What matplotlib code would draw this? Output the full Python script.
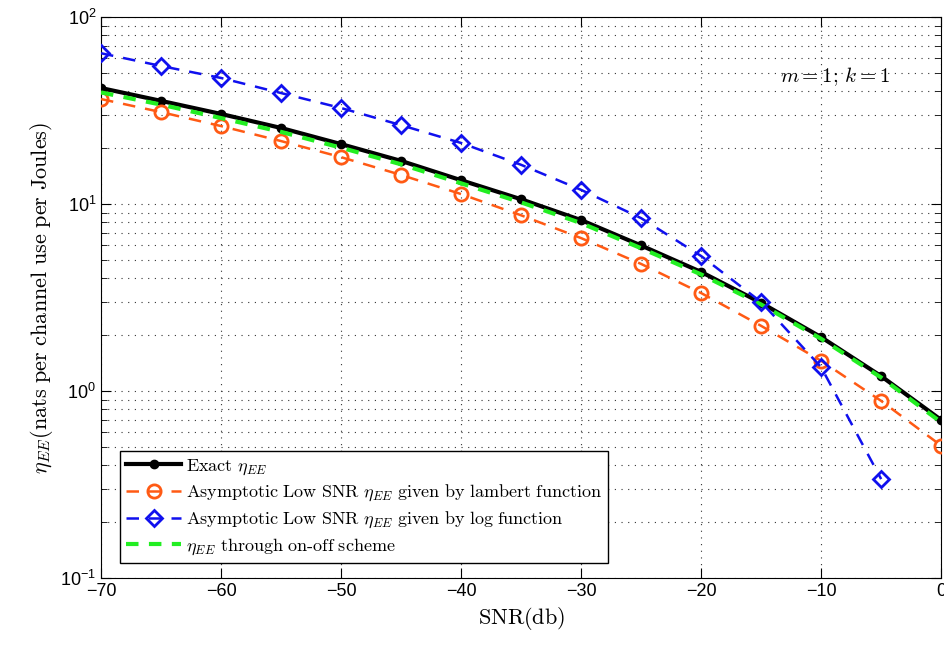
import numpy as np
from matplotlib import pyplot as plt
from matplotlib.ticker import LogLocator, NullFormatter

snr_db = [-70, -65, -60, -55, -50, -45, -40, -35, -30, -25, -20, -15, -10, -5, 0]

exact_ee = [41.7, 35.6, 30.3, 25.5, 20.9, 17.0, 13.4, 10.6, 8.2, 6.0, 4.33, 2.96, 1.94, 1.20, 0.70]
lambert_ee = [36.4, 31.0, 26.1, 21.7, 17.8, 14.3, 11.3, 8.7, 6.57, 4.78, 3.34, 2.23, 1.45, 0.885, 0.51]
snr_db_log = [-70, -65, -60, -55, -50, -45, -40, -35, -30, -25, -20, -15, -10, -5]
log_ee = [64.0, 54.7, 47.2, 39.2, 32.6, 26.4, 21.2, 16.2, 11.9, 8.4, 5.27, 2.99, 1.34, 0.338]
onoff_ee = [39.5, 34.0, 28.8, 24.3, 20.0, 16.3, 12.9, 10.2, 7.9, 5.8, 4.2, 2.9, 1.9, 1.18, 0.68]

x_ticks = [-70, -60, -50, -40, -30, -20, -10, 0]

plt.rcParams['mathtext.fontset'] = 'cm'
plt.rcParams['font.family'] = ['Liberation Sans', 'DejaVu Sans']

fig = plt.figure(figsize=(9.44, 6.46), dpi=100)
ax = fig.add_axes([0.107, 0.1053, 0.89, 0.8684])

ax.plot(snr_db, exact_ee, '-', color='black', lw=3, marker='o', ms=6,
        label=r'$\mathrm{Exact}\ \eta_{EE}$', zorder=3)
ax.plot(snr_db, lambert_ee, '--', color='#ff5a14', lw=1.8, marker='o', ms=9.5,
        mfc='none', mew=2, dashes=(5, 4),
        label=r'$\mathrm{Asymptotic\ Low\ SNR}\ \eta_{EE}\ \mathrm{given\ by\ lambert\ function}$', zorder=4)
ax.plot(snr_db_log, log_ee, '--', color='#1010ee', lw=1.8, marker='D', ms=8,
        mfc='none', mew=2, dashes=(5, 4),
        label=r'$\mathrm{Asymptotic\ Low\ SNR}\ \eta_{EE}\ \mathrm{given\ by\ log\ function}$', zorder=5)
ax.plot(snr_db, onoff_ee, '--', color='#22ee22', lw=3, dashes=(3, 2.5),
        label=r'$\eta_{EE}\ \mathrm{through\ on\text{-}off\ scheme}$', zorder=4)

ax.set_yscale('log')
ax.set_xlim(-70, 0)
ax.set_ylim(0.1, 100)
ax.set_xticks(x_ticks)
ax.set_xticklabels(['\u221270', '\u221260', '\u221250', '\u221240', '\u221230', '\u221220', '\u221210', '0'])
ax.yaxis.set_minor_locator(LogLocator(base=10, subs=np.arange(2, 10)))
ax.yaxis.set_minor_formatter(NullFormatter())
ax.tick_params(which='both', direction='in', top=True, right=True, labelsize=13)
ax.tick_params(which='major', length=7)
ax.tick_params(which='minor', length=4)
ax.grid(True, which='major', axis='x', linestyle=(0, (1, 5)), color='#333333', lw=0.8)
ax.grid(True, which='both', axis='y', linestyle=(0, (1, 5)), color='#333333', lw=0.8)

ax.set_xlabel(r'$\mathrm{SNR(db)}$', fontsize=16)
ax.set_ylabel(r'$\eta_{EE}(\mathrm{nats\ per\ channel\ use\ per\ Joules})$', fontsize=16)

ax.text(-4.3, 47.7, r'$m=1;\,k=1$', fontsize=15, ha='right', va='center')

leg = ax.legend(loc='lower left', bbox_to_anchor=(0.012, 0.01), fontsize=13,
                handlelength=3, fancybox=False, framealpha=1, edgecolor='black',
                borderpad=0.35, labelspacing=0.35, handletextpad=0.3)
leg.get_frame().set_linewidth(1)

plt.savefig('out.png')
